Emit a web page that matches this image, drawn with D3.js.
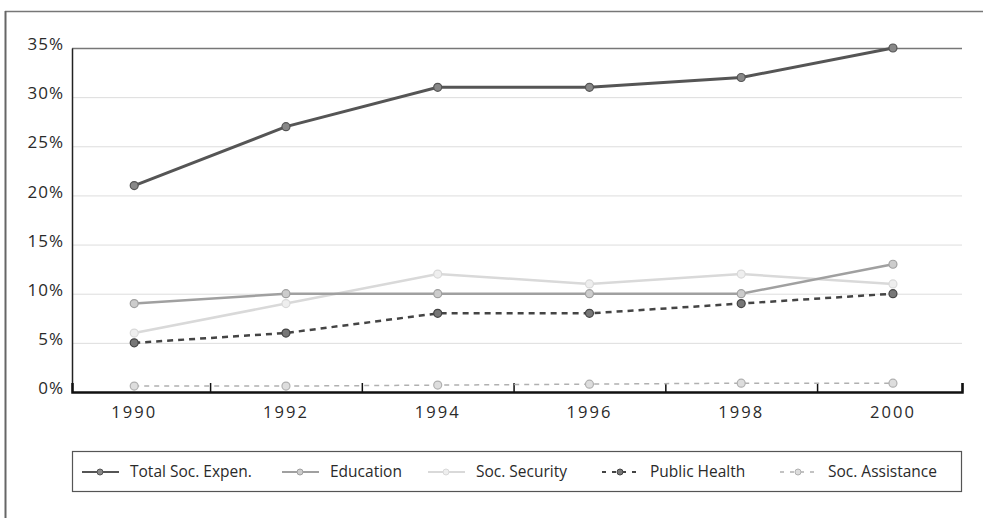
<!DOCTYPE html>
<html>
<head>
<meta charset="utf-8">
<script src="https://cdn.jsdelivr.net/npm/d3@7"></script>
<style>
  body { margin: 0; background: #fff; }
  svg { display: block; }
  text { font-family: "Open Sans", "DejaVu Sans", sans-serif; fill: #2a2a2a; }
</style>
</head>
<body>
<div id="chart"></div>
<script>
// data (percent)
const years = [1990, 1992, 1994, 1996, 1998, 2000];
const totalSocExpen = [21, 27, 31, 31, 32, 35];
const education = [9, 10, 10, 10, 10, 13];
const socSecurity = [6, 9, 12, 11, 12, 11];
const publicHealth = [5, 6, 8, 8, 9, 10];
const socAssistance = [0.6, 0.6, 0.7, 0.8, 0.9, 0.9];
const yTicks = [0, 5, 10, 15, 20, 25, 30, 35];
const seriesNames = ["Total Soc. Expen.", "Education", "Soc. Security", "Public Health", "Soc. Assistance"];

const series = [
  {name: seriesNames[0], values: totalSocExpen, color: "#555", width: 3, dash: null, fill: "#888"},
  {name: seriesNames[1], values: education, color: "#a0a0a0", width: 2.5, dash: null, fill: "#ccc"},
  {name: seriesNames[2], values: socSecurity, color: "#d9d9d9", width: 2.5, dash: null, fill: "#eee"},
  {name: seriesNames[3], values: publicHealth, color: "#444", width: 2.5, dash: "6,5", fill: "#777"},
  {name: seriesNames[4], values: socAssistance, color: "#b0b0b0", width: 1.5, dash: "5,5", fill: "#ddd"}
];

const W = 983, H = 521;
const svg = d3.select("#chart").append("svg").attr("width", W).attr("height", H);

// outer frame (top and left edges visible)
svg.append("line").attr("x1", 5).attr("x2", W).attr("y1", 11.5).attr("y2", 11.5)
  .attr("stroke", "#777").attr("stroke-width", 1.5);
svg.append("line").attr("x1", 5.5).attr("x2", 5.5).attr("y1", 11).attr("y2", 518)
  .attr("stroke", "#666").attr("stroke-width", 2);

const x = d3.scaleLinear().domain([1989.18, 2000.91]).range([72, 962]);
const y = d3.scaleLinear().domain([0, 35]).range([392, 48]);

// gridlines
svg.append("g").selectAll("line").data(yTicks.filter(d => d > 0)).join("line")
  .attr("x1", x.range()[0]).attr("x2", x.range()[1])
  .attr("y1", d => y(d) + 0.5).attr("y2", d => y(d) + 0.5)
  .attr("stroke", d => d === 35 ? "#777" : "#ddd")
  .attr("stroke-width", d => d === 35 ? 1.5 : 1);

// y axis
const yAxis = svg.append("g").attr("transform", "translate(72,0)")
  .call(d3.axisLeft(y).tickValues(yTicks).tickSize(0).tickPadding(8).tickFormat(d => d + "%"));
yAxis.select(".domain").attr("stroke", "#222").attr("stroke-width", 1.5);
yAxis.selectAll("text").style("font-size", "17px").style("letter-spacing", "1px").attr("dy", "0.1em");

// x axis with upward ticks between the years
const xAxis = svg.append("g").attr("transform", "translate(0,392)")
  .call(d3.axisBottom(x).tickValues([1991, 1993, 1995, 1997, 1999, 2000.91]).tickSize(-9).tickFormat(""));
xAxis.select(".domain").attr("stroke", "#111").attr("stroke-width", 2.5);
xAxis.selectAll(".tick line").attr("stroke", "#111").attr("stroke-width", 1.5);
svg.append("g").selectAll("text").data(years).join("text")
  .attr("x", d => x(d)).attr("y", 418)
  .attr("text-anchor", "middle")
  .style("font-size", "16.5px").style("letter-spacing", "2px")
  .text(d => d);

// lines and markers
const line = d3.line().x((d, i) => x(years[i])).y(d => y(d));
const drawOrder = [4, 2, 1, 3, 0];
drawOrder.forEach(k => {
  const s = series[k];
  svg.append("path").datum(s.values)
    .attr("fill", "none").attr("stroke", s.color).attr("stroke-width", s.width)
    .attr("stroke-dasharray", s.dash)
    .attr("d", line);
  svg.append("g").selectAll("circle").data(s.values).join("circle")
    .attr("cx", (d, i) => x(years[i])).attr("cy", d => y(d)).attr("r", 4)
    .attr("fill", s.fill).attr("stroke", s.color).attr("stroke-width", 1.2);
});

// legend
const legend = svg.append("g");
legend.append("rect").attr("x", 72.5).attr("y", 451.5).attr("width", 889).attr("height", 40)
  .attr("fill", "#fff").attr("stroke", "#555").attr("stroke-width", 1.2);
const legendX = [82, 282, 428, 602, 780];
series.forEach((s, k) => {
  const g = legend.append("g").attr("transform", `translate(${legendX[k]},472)`);
  g.append("line").attr("x1", 0).attr("x2", 37).attr("y1", 0).attr("y2", 0)
    .attr("stroke", s.color).attr("stroke-width", Math.min(s.width, 2))
    .attr("stroke-dasharray", s.dash ? "4,6" : null);
  g.append("circle").attr("cx", 18).attr("cy", 0).attr("r", 3)
    .attr("fill", s.fill).attr("stroke", s.color).attr("stroke-width", 1);
  g.append("text").attr("x", 48).attr("y", 0).attr("dy", "0.35em")
    .style("font-size", "15.5px").text(s.name);
});
</script>
</body>
</html>
